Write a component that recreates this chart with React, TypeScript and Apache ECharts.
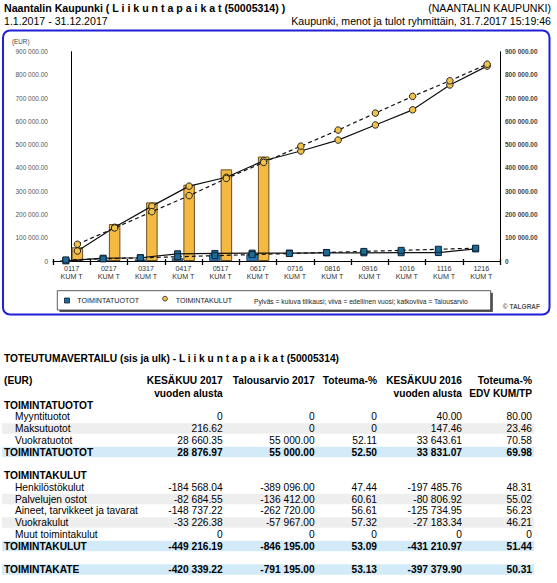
import React, { useEffect, useRef } from "react";
import * as echarts from "echarts";

// ---- data ----
const categories = ["0117", "0217", "0317", "0417", "0517", "0617", "0716", "0816", "0916", "1016", "1116", "1216"];
const categorySub = "KUM T";
const incomeActual = [500, 5500, 7000, 12000, 28200, 28877];
const costActual = [59000, 159000, 252000, 328000, 394000, 449216];
const incomePrevYear = [500, 12000, 14000, 31000, 32500, 33831, 34200, 34800, 35200, 35600, 36200, 52000];
const incomeBudget = [4600, 9200, 13700, 18300, 22900, 27500, 32100, 36700, 41200, 45800, 50400, 55000];
const costPrevYear = [43000, 145000, 236000, 322000, 360000, 431211, 473000, 520000, 585000, 650000, 757000, 838000];
const costBudget = [72000, 142000, 212000, 281000, 355000, 424000, 494000, 563000, 636000, 708000, 775000, 846195];

const tableLabels = [
  "Myyntituotot", "Maksutuotot", "Vuokratuotot", "TOIMINTATUOTOT",
  "Henkilöstökulut", "Palvelujen ostot", "Aineet, tarvikkeet ja tavarat", "Vuokrakulut", "Muut toimintakulut", "TOIMINTAKULUT",
  "TOIMINTAKATE",
];
const colActual2017 = ["0", "216.62", "28 660.35", "28 876.97", "-184 568.04", "-82 684.55", "-148 737.22", "-33 226.38", "0", "-449 216.19", "-420 339.22"];
const colBudget2017 = ["0", "0", "55 000.00", "55 000.00", "-389 096.00", "-136 412.00", "-262 720.00", "-57 967.00", "0", "-846 195.00", "-791 195.00"];
const colPct2017 = ["0", "0", "52.11", "52.50", "47.44", "60.61", "56.61", "57.32", "0", "53.09", "53.13"];
const colActual2016 = ["40.00", "147.46", "33 643.61", "33 831.07", "-197 485.76", "-80 806.92", "-125 734.95", "-27 183.34", "0", "-431 210.97", "-397 379.90"];
const colPct2016 = ["80.00", "23.46", "70.58", "69.98", "48.31", "55.02", "56.23", "46.21", "0", "51.44", "50.31"];
const groupHeadings = ["TOIMINTATUOTOT", "TOIMINTAKULUT"];
const colHeads1 = ["KESÄKUU 2017", "Talousarvio 2017", "Toteuma-%", "KESÄKUU 2016", "Toteuma-%"];
const colHeads2 = ["vuoden alusta", "", "", "vuoden alusta", "EDV KUM/TP"];

// ---- layout ----
const FONT = '"Liberation Sans", Arial, Helvetica, sans-serif';
const rowSlots = [1, 2, 3, 4, 7, 8, 9, 10, 11, 12, 14];
const rowIsTotal = [false, false, false, true, false, false, false, false, false, true, true];
const headingSlots = [0, 6];
const colRight = [222.7, 314.7, 377, 462, 532];

const fmtAxis = (v: number) =>
  v === 0 ? "0" : String(v).replace(/\B(?=(\d{3})+(?!\d))/g, " ") + ".00";

function txt(x: number, y: number, text: string, size: number, opts: any = {}) {
  const align = opts.align || "left";
  return {
    type: "text",
    x,
    y,
    silent: true,
    style: {
      text,
      fontSize: size,
      fontFamily: FONT,
      fontWeight: opts.bold ? "bold" : "normal",
      fontStyle: opts.italic ? "italic" : "normal",
      fill: opts.color || "#000",
      align,
      verticalAlign: "middle",
      textAlign: align,
      textVerticalAlign: "middle",
    },
  };
}

export default function App() {
  const ref = useRef<HTMLDivElement>(null);
  useEffect(() => {
    if (!ref.current) return;
    const chart = echarts.init(ref.current, null, { renderer: "svg" });

    const gridLeft = 53;
    const gridRight = 57;
    const barWidth = 11.5;
    const catWidth = (557 - gridLeft - gridRight) / categories.length;
    const off = barWidth / 2 / catWidth;

    const graphic: any[] = [];
    // page header
    graphic.push(txt(4, 8, "Naantalin Kaupunki ( L i i k u n t a p a i k a t (50005314) )", 10.6, { bold: true }));
    graphic.push(txt(551, 8, "(NAANTALIN KAUPUNKI)", 10.6, { align: "right" }));
    graphic.push(txt(4, 21, "1.1.2017 - 31.12.2017", 10.6));
    graphic.push(txt(551, 21, "Kaupunki, menot ja tulot ryhmittäin, 31.7.2017 15:19:46", 10.6, { align: "right" }));
    // chart frame
    graphic.push({
      type: "rect",
      shape: { x: 3, y: 30.5, width: 546.5, height: 284, r: 7 },
      style: { fill: "none", stroke: "#1f1fd6", lineWidth: 2 },
      silent: true,
      z: 10,
    });
    graphic.push(txt(12, 41, "(EUR)", 6.3, { color: "#444" }));
    // legend box
    graphic.push({ type: "rect", shape: { x: 59.5, y: 292.7, width: 433.4, height: 19.3 }, style: { fill: "#555" }, silent: true });
    graphic.push({ type: "rect", shape: { x: 57.3, y: 290.7, width: 433.4, height: 19.3 }, style: { fill: "#fff", stroke: "#333", lineWidth: 0.8 }, silent: true });
    graphic.push({ type: "rect", shape: { x: 64.5, y: 298, width: 5, height: 5 }, style: { fill: "#1d6c97", stroke: "#0d2233", lineWidth: 0.8 }, silent: true });
    graphic.push(txt(77.3, 301, "TOIMINTATUOTOT", 7.1, { color: "#222" }));
    graphic.push({ type: "circle", shape: { cx: 165, cy: 298.7, r: 2.4 }, style: { fill: "#f0c24a", stroke: "#222", lineWidth: 0.8 }, silent: true });
    graphic.push(txt(175.7, 301, "TOIMINTAKULUT", 7.1, { color: "#222" }));
    graphic.push(txt(254, 301, "Pylväs = kuluva tilikausi; viiva = edellinen vuosi; katkoviiva = Talousarvio", 6.7, { color: "#222" }));
    graphic.push(txt(540, 306.5, "© TALGRAF", 6.5, { bold: true, color: "#555", align: "right" }));

    // table
    const slotY = (s: number) => 405 + s * 11.75;
    graphic.push(txt(4, 358.3, "TOTEUTUMAVERTAILU (sis ja ulk) - L i i k u n t a p a i k a t (50005314)", 10.2, { bold: true }));
    graphic.push(txt(4, 380, "(EUR)", 10.2, { bold: true }));
    colHeads1.forEach((h, c) => graphic.push(txt(colRight[c], 380, h, 10.2, { bold: true, align: "right" })));
    colHeads2.forEach((h, c) => {
      if (h) graphic.push(txt(colRight[c], 393.3, h, 10.2, { bold: true, align: "right" }));
    });
    groupHeadings.forEach((h, i) => graphic.push(txt(4, slotY(headingSlots[i]), h, 10.2, { bold: true })));
    const cols = [colActual2017, colBudget2017, colPct2017, colActual2016, colPct2016];
    tableLabels.forEach((label, i) => {
      const s = rowSlots[i];
      const y = slotY(s);
      const total = rowIsTotal[i];
      if (total) {
        graphic.push({ type: "rect", shape: { x: 2, y: y - 5.2, width: 532, height: 10.4 }, style: { fill: "#d3ebf9" }, silent: true, z: -1 });
      } else if (s % 2 === 0) {
        graphic.push({ type: "rect", shape: { x: 2, y: y - 5.2, width: 532, height: 10.4 }, style: { fill: "#eeeeee" }, silent: true, z: -1 });
      }
      graphic.push(txt(total ? 4 : 15, y, label, 10.2, { bold: total }));
      cols.forEach((col, c) => graphic.push(txt(colRight[c], y, col[i], 10.2, { bold: total, align: "right" })));
    });

    const lineCommon = (color: string, symbol: string, size: number, borderColor: string) => ({
      type: "line",
      xAxisIndex: 1,
      yAxisIndex: 0,
      symbol,
      symbolSize: size,
      showAllSymbol: true,
      itemStyle: { color, borderColor, borderWidth: 1 },
      z: 5,
    });

    const option: any = {
      animation: false,
      backgroundColor: "#fff",
      textStyle: { fontFamily: FONT },
      grid: { left: gridLeft, right: gridRight, top: 51.7, bottom: 322 },
      xAxis: [
        {
          type: "category",
          data: categories.map((c) => c + "\n" + categorySub),
          boundaryGap: true,
          axisLine: { show: true, lineStyle: { color: "#000", width: 1 } },
          axisTick: { show: true, length: 4, lineStyle: { color: "#000", width: 1.3 } },
          axisLabel: { interval: 0, fontSize: 7.2, color: "#333", lineHeight: 8.5, margin: 3, fontFamily: FONT },
          splitLine: { show: false },
        },
        { type: "value", min: -0.5, max: 11.5, show: false },
        {
          type: "category",
          position: "bottom",
          data: categories,
          axisLine: { show: false },
          axisLabel: { show: false },
          axisTick: { show: true, inside: true, length: 2, lineStyle: { color: "#000", width: 1.3 } },
          splitLine: { show: false },
        },
      ],
      yAxis: [
        {
          type: "value",
          position: "left",
          min: 0,
          max: 900000,
          interval: 100000,
          axisLine: { show: true, lineStyle: { color: "#000", width: 1 } },
          axisTick: { show: false },
          splitLine: { show: false },
          axisLabel: { formatter: fmtAxis, fontSize: 6.5, color: "#555", margin: 5, fontFamily: FONT },
        },
        {
          type: "value",
          position: "right",
          min: 0,
          max: 900000,
          interval: 100000,
          axisLine: { show: true, lineStyle: { color: "#000", width: 1 } },
          axisTick: { show: false },
          splitLine: { show: false },
          axisLabel: { formatter: fmtAxis, fontSize: 6.5, color: "#444", fontWeight: "bold", margin: 5, fontFamily: FONT },
        },
      ],
      series: [
        {
          type: "bar",
          name: "TOIMINTATUOTOT",
          data: incomeActual,
          barWidth,
          barGap: "0%",
          itemStyle: { color: "#1c7dc3", borderColor: "#1a3550", borderWidth: 0.8 },
        },
        {
          type: "bar",
          name: "TOIMINTAKULUT",
          data: costActual,
          barWidth,
          barGap: "0%",
          itemStyle: { color: "#f4b942", borderColor: "#6b5020", borderWidth: 1 },
        },
        {
          ...lineCommon("#1d6c97", "rect", 6, "#0d2233"),
          name: "TOIMINTATUOTOT edellinen vuosi",
          data: incomePrevYear.map((v, i) => [i - off, v]),
          lineStyle: { color: "#111", width: 1.2, type: "solid" },
        },
        {
          ...lineCommon("#1d6c97", "rect", 6, "#0d2233"),
          name: "TOIMINTATUOTOT talousarvio",
          data: incomeBudget.map((v, i) => [i - off, v]),
          lineStyle: { color: "#111", width: 1.2, type: [4, 3] },
        },
        {
          ...lineCommon("#f0c24a", "circle", 6.5, "#222"),
          name: "TOIMINTAKULUT edellinen vuosi",
          data: costPrevYear.map((v, i) => [i + off, v]),
          lineStyle: { color: "#111", width: 1.2, type: "solid" },
        },
        {
          ...lineCommon("#f0c24a", "circle", 6.5, "#222"),
          name: "TOIMINTAKULUT talousarvio",
          data: costBudget.map((v, i) => [i + off, v]),
          lineStyle: { color: "#111", width: 1.2, type: [4, 3] },
        },
      ],
      graphic,
    };
    chart.setOption(option);
    return () => chart.dispose();
  }, []);

  return (
    <div
      ref={ref}
      style={{ position: "absolute", left: 0, top: 0, width: 557, height: 583, background: "#fff" }}
    />
  );
}
